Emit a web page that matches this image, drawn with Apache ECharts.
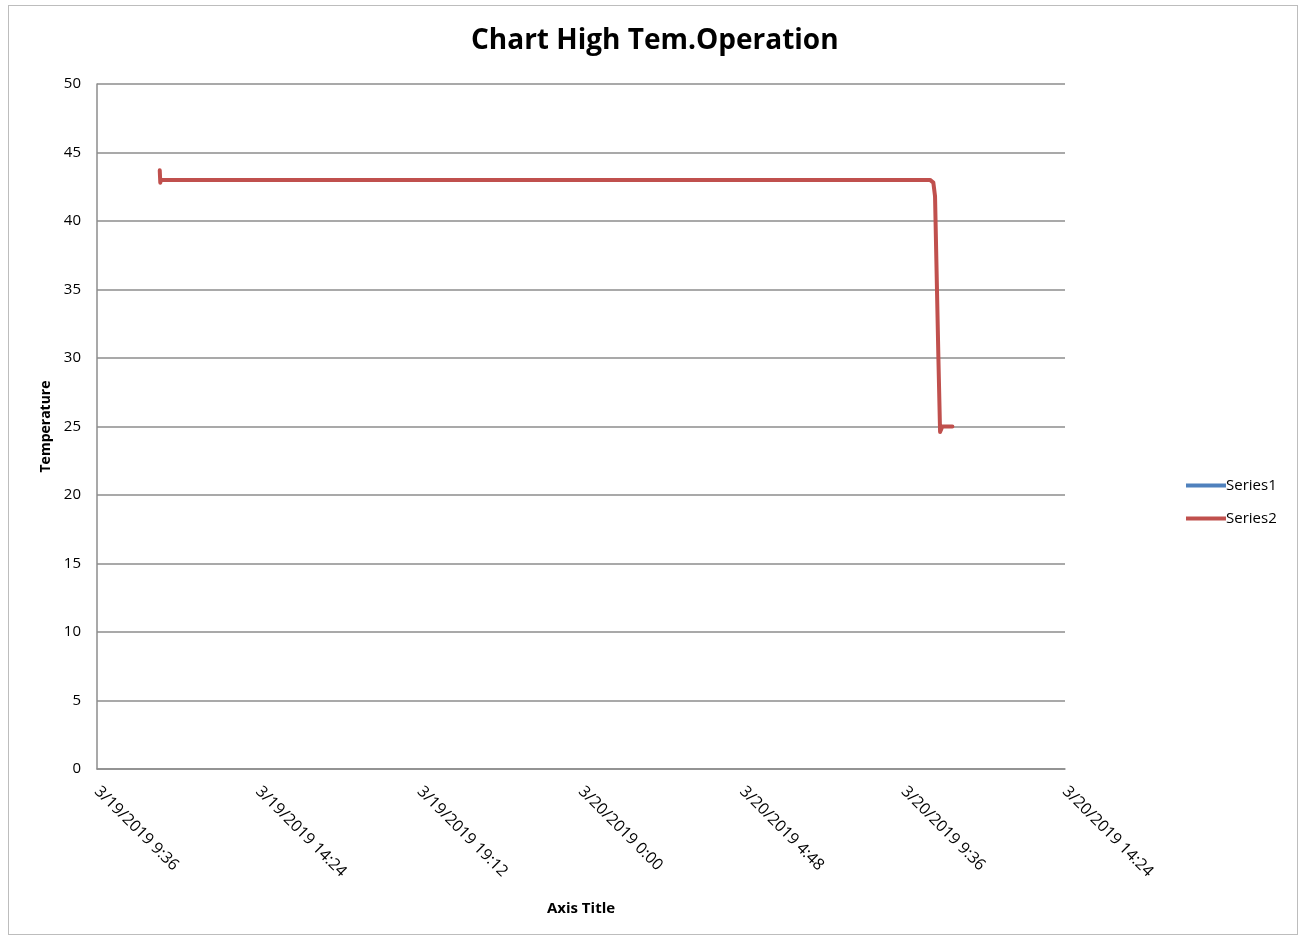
<!DOCTYPE html>
<html>
<head>
<meta charset="utf-8">
<script src="https://cdn.jsdelivr.net/npm/echarts@6/dist/echarts.min.js"></script>
<style>
html,body{margin:0;padding:0;background:#fff;}
#frame{position:absolute;left:8px;top:5px;width:1290px;height:930px;border:1px solid #bdbdbd;box-sizing:border-box;}
#chart{position:absolute;left:0;top:0;width:1300px;height:937px;}
</style>
</head>
<body>
<div id="frame"></div>
<div id="chart"></div>
<script>
// Data
var chartTitle = 'Chart High Tem.Operation';
var seriesNames = ['Series1', 'Series2'];
var series1Times = [];
var series1Values = [];
var series2Times = [
  '3/19/2019 11:28', '3/19/2019 11:29', '3/19/2019 11:30',
  '3/20/2019 10:23', '3/20/2019 10:29', '3/20/2019 10:32',
  '3/20/2019 10:38', '3/20/2019 10:41', '3/20/2019 10:45', '3/20/2019 11:03'
];
var series2Values = [43.7, 42.8, 43.0, 43.0, 42.8, 41.8, 30.0, 24.6, 25.0, 25.0];
var xTickLabels = ['3/19/2019 9:36', '3/19/2019 14:24', '3/19/2019 19:12', '3/20/2019 0:00', '3/20/2019 4:48', '3/20/2019 9:36', '3/20/2019 14:24'];

// minutes since 3/19/2019 0:00
function toMin(s) {
  var parts = s.split(' ');
  var d = parts[0].split('/');
  var t = parts[1].split(':');
  var day = parseInt(d[1], 10) - 19;
  return day * 1440 + parseInt(t[0], 10) * 60 + parseInt(t[1], 10);
}
var xMin = toMin(xTickLabels[0]);
var xMax = toMin(xTickLabels[xTickLabels.length - 1]);
var xStep = toMin(xTickLabels[1]) - xMin;
function fmt(m) {
  var day = 19 + Math.floor(m / 1440);
  var r = m - (day - 19) * 1440;
  var h = Math.floor(r / 60), mm = r % 60;
  return '3/' + day + '/2019 ' + h + ':' + (mm < 10 ? '0' : '') + mm;
}
function pairs(times, vals) {
  return times.map(function (t, i) { return [toMin(t), vals[i]]; });
}

var font = '"Open Sans", "Liberation Sans", sans-serif';
var chart = echarts.init(document.getElementById('chart'));
chart.setOption({
  animation: false,
  title: {
    text: chartTitle, left: 466, top: 22,
    textStyle: { fontFamily: font, fontSize: 28, fontWeight: 'bold', color: '#000' }
  },
  legend: {
    orient: 'vertical', left: 1181, top: 473, itemGap: 18,
    itemWidth: 40, itemHeight: 4, icon: 'rect',
    textStyle: { fontFamily: font, fontSize: 15, color: '#000', padding: [0, 0, 0, -5] },
    data: seriesNames
  },
  grid: { left: 97, right: 235, top: 84, bottom: 168, containLabel: false },
  xAxis: {
    type: 'value', min: xMin, max: xMax, interval: xStep,
    name: 'Axis Title', nameLocation: 'middle', nameGap: 132,
    nameTextStyle: { fontFamily: font, fontSize: 15, fontWeight: 'bold', color: '#000' },
    axisLine: { lineStyle: { color: '#8c8c8c', width: 1.5 } },
    axisTick: { show: false },
    splitLine: { show: false },
    axisLabel: {
      rotate: -45, margin: 20, fontFamily: font, fontSize: 16, color: '#000',
      formatter: function (v) { return fmt(v); }
    }
  },
  yAxis: {
    type: 'value', min: 0, max: 50, interval: 5,
    name: 'Temperature', nameLocation: 'middle', nameGap: 44, nameRotate: 90,
    nameTextStyle: { fontFamily: font, fontSize: 14, fontWeight: 'bold', color: '#000' },
    axisLine: { show: true, lineStyle: { color: '#8c8c8c', width: 1.5 } },
    axisTick: { show: false },
    splitLine: { lineStyle: { color: '#8c8c8c', width: 1.5 } },
    axisLabel: { margin: 16, fontFamily: font, fontSize: 15, color: '#000' }
  },
  series: [
    {
      name: seriesNames[0], type: 'line', showSymbol: false,
      itemStyle: { color: '#4F81BD' }, lineStyle: { width: 3, color: '#4F81BD' },
      data: pairs(series1Times, series1Values)
    },
    {
      name: seriesNames[1], type: 'line', showSymbol: false, smooth: false,
      itemStyle: { color: '#C0504D' }, lineStyle: { width: 4, color: '#C0504D', join: 'round', cap: 'round' },
      data: pairs(series2Times, series2Values)
    }
  ]
});
</script>
</body>
</html>
